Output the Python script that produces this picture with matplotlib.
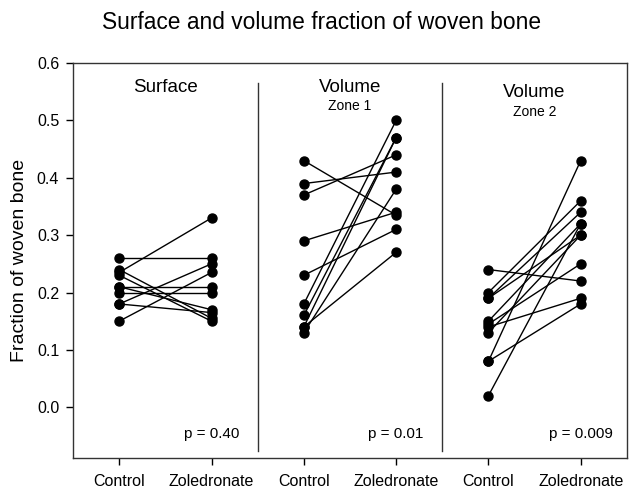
import matplotlib
matplotlib.use("Agg")
import matplotlib.pyplot as plt

plt.rcParams["font.family"] = ["Liberation Sans", "DejaVu Sans"]

# -------------------------
# Data
# -------------------------
surface_control = [0.26, 0.235, 0.24, 0.23, 0.21, 0.21, 0.20, 0.18, 0.18, 0.15]
surface_zol     = [0.26, 0.33, 0.155, 0.15, 0.21, 0.17, 0.20, 0.165, 0.25, 0.235]

zone1_control = [0.43, 0.39, 0.37, 0.29, 0.23, 0.18, 0.16, 0.14, 0.13, 0.14]
zone1_zol     = [0.335, 0.41, 0.44, 0.34, 0.31, 0.50, 0.47, 0.47, 0.38, 0.27]

zone2_control = [0.24, 0.20, 0.19, 0.19, 0.15, 0.145, 0.14, 0.13, 0.08, 0.08, 0.02]
zone2_zol     = [0.22, 0.36, 0.34, 0.30, 0.32, 0.25, 0.19, 0.30, 0.43, 0.18, 0.32]

panels = [
    (surface_control, surface_zol),
    (zone1_control, zone1_zol),
    (zone2_control, zone2_zol),
]
p_values = ["p = 0.40", "p = 0.01", "p = 0.009"]
tick_labels = ["Control", "Zoledronate"] * 3

# -------------------------
# Plot
# -------------------------
fig = plt.figure(figsize=(6.3, 4.97), dpi=100)
ax = fig.add_axes([0.116, 0.078, 0.879, 0.795])

for i, (ctrl, zol) in enumerate(panels):
    x0 = 1 + 2 * i
    for c, z in zip(ctrl, zol):
        ax.plot([x0, x0 + 1], [c, z], color="black", lw=1.0,
                marker="o", ms=6.5, mfc="black", mec="black")
    ax.text(x0 + 1, -0.047, p_values[i], ha="center", va="center", fontsize=11)

# panel dividers
for xd in (2.5, 4.5):
    ax.plot([xd, xd], [-0.076, 0.565], color="#333333", lw=1.0)

# panel headers
ax.text(1.5, 0.557, "Surface", ha="center", va="center", fontsize=13.5)
ax.text(3.5, 0.557, "Volume", ha="center", va="center", fontsize=13.5)
ax.text(3.5, 0.525, "Zone 1", ha="center", va="center", fontsize=10)
ax.text(5.5, 0.548, "Volume", ha="center", va="center", fontsize=13.5)
ax.text(5.5, 0.514, "Zone 2", ha="center", va="center", fontsize=10)

ax.set_xlim(0.5, 6.5)
ax.set_ylim(-0.089, 0.6)
ax.set_xticks(range(1, 7))
ax.set_xticklabels(tick_labels, fontsize=11.5)
ax.set_yticks([0.0, 0.1, 0.2, 0.3, 0.4, 0.5, 0.6])
ax.set_yticklabels(["0.0", "0.1", "0.2", "0.3", "0.4", "0.5", "0.6"], fontsize=11.5)
ax.tick_params(direction="out", length=5, width=1, pad=5)
ax.tick_params(axis="x", pad=6)
for s in ax.spines.values():
    s.set_color("#333333")
    s.set_linewidth(1.0)

ax.set_ylabel("Fraction of woven bone", fontsize=14, labelpad=6)
fig.text(0.511, 0.955, "Surface and volume fraction of woven bone",
         ha="center", va="center", fontsize=16.4)

fig.savefig("out.png", dpi=100)
